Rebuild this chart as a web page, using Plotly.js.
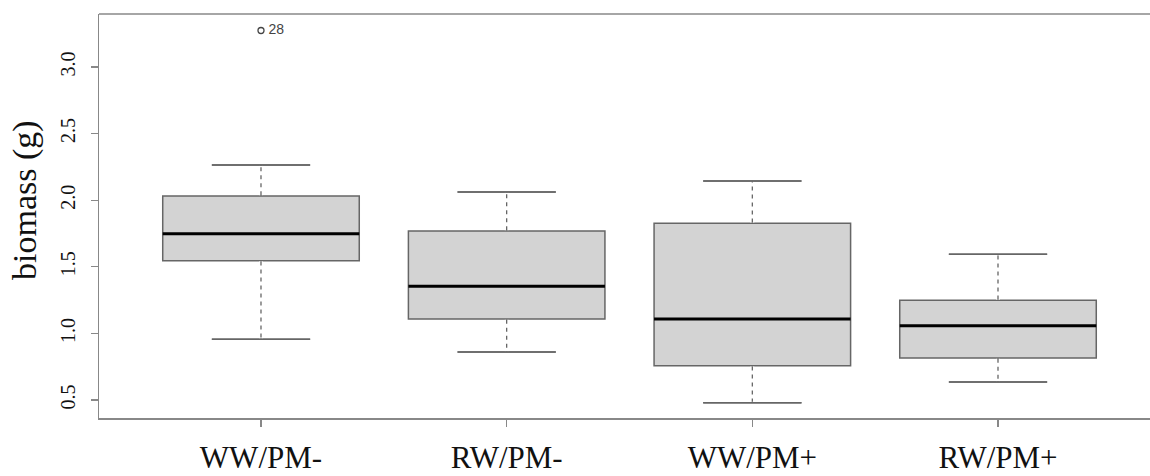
<!DOCTYPE html>
<html>
<head>
<meta charset="utf-8">
<script src="https://cdn.plot.ly/plotly-3.0.1.min.js"></script>
<style>html,body{margin:0;padding:0;background:#fff;overflow:hidden}</style>
</head>
<body>
<div id="chart" style="width:1200px;height:476px"></div>
<script>
// ---- data ----
const groups = ['WW/PM-', 'RW/PM-', 'WW/PM+', 'RW/PM+'];
const positions = [1, 2, 3, 4];
const lowerWhisker = [0.956, 0.860, 0.480, 0.635];
const q1 = [1.546, 1.108, 0.757, 0.815];
const median = [1.749, 1.354, 1.108, 1.058];
const q3 = [2.032, 1.769, 1.827, 1.248];
const upperWhisker = [2.264, 2.062, 2.144, 1.594];
const outlierPos = [1];
const outlierValue = [3.274];
const outlierLabel = ['28'];
const yTicks = [0.5, 1.0, 1.5, 2.0, 2.5, 3.0];

// ---- style ----
const BOX_W = 0.8, CAP_W = 0.4;
const edge = '#666666';
const serif = 'Liberation Serif, Times New Roman, serif';
const W = 1200;

const traces = [];
traces.push({
  type: 'box', x: positions, q1: q1, median: median, q3: q3,
  lowerfence: lowerWhisker, upperfence: upperWhisker,
  width: BOX_W, whiskerwidth: 0.5, boxpoints: false,
  fillcolor: '#d3d3d3', line: {color: edge, width: 1.5},
  hoverinfo: 'skip', showlegend: false
});

// whiskers: cover solid segments, redraw dashed, redraw caps
const wx = [], wy = [], cx = [], cy = [];
positions.forEach((p, i) => {
  wx.push(p, p, null, p, p, null);
  wy.push(q3[i] + 0.006, upperWhisker[i] - 0.006, null, q1[i] - 0.006, lowerWhisker[i] + 0.006, null);
  cx.push(p - CAP_W / 2, p + CAP_W / 2, null, p - CAP_W / 2, p + CAP_W / 2, null);
  cy.push(upperWhisker[i], upperWhisker[i], null, lowerWhisker[i], lowerWhisker[i], null);
});
traces.push({type: 'scatter', mode: 'lines', x: wx, y: wy, line: {color: '#ffffff', width: 4},
  hoverinfo: 'skip', showlegend: false, connectgaps: false});
traces.push({type: 'scatter', mode: 'lines', x: wx, y: wy, line: {color: edge, width: 1.3, dash: '4px,4px'},
  hoverinfo: 'skip', showlegend: false, connectgaps: false});
traces.push({type: 'scatter', mode: 'lines', x: cx, y: cy, line: {color: edge, width: 1.5},
  hoverinfo: 'skip', showlegend: false, connectgaps: false});

// medians
const mx = [], my = [];
positions.forEach((p, i) => {
  mx.push(p - BOX_W / 2, p + BOX_W / 2, null);
  my.push(median[i], median[i], null);
});
traces.push({type: 'scatter', mode: 'lines', x: mx, y: my, line: {color: '#000000', width: 3},
  hoverinfo: 'skip', showlegend: false, connectgaps: false});

// outlier
traces.push({
  type: 'scatter', mode: 'markers+text', x: outlierPos, y: outlierValue,
  text: outlierLabel.map(t => '\u2009' + t),
  textposition: 'middle right',
  textfont: {family: 'Liberation Sans, Arial, sans-serif', size: 14, color: '#444444'},
  marker: {symbol: 'circle-open', size: 6, color: '#444444', line: {width: 1.3}},
  hoverinfo: 'skip', showlegend: false
});

const layout = {
  width: W, height: 476,
  margin: {l: 99, r: 0, t: 14, b: 58, pad: 0},
  paper_bgcolor: '#ffffff', plot_bgcolor: '#ffffff',
  showlegend: false,
  xaxis: {
    range: [0.3406, 0.3406 + (W - 99) / 245.67], tickmode: 'array', tickvals: positions, ticktext: groups,
    showline: true, mirror: false, linecolor: '#888888', linewidth: 1.5,
    ticks: 'outside', ticklen: 7, tickcolor: '#888888', tickwidth: 1.2,
    showgrid: false, zeroline: false, ticklabelstandoff: 4,
    tickfont: {family: serif, size: 31, color: '#111111'}
  },
  yaxis: {
    range: [0.3649, 3.398], tickmode: 'array', tickvals: yTicks,
    ticktext: yTicks.map(v => v.toFixed(1)), tickangle: -90,
    showline: true, mirror: false, linecolor: '#888888', linewidth: 1.5,
    ticks: 'outside', ticklen: 7, tickcolor: '#888888', tickwidth: 1.2,
    showgrid: false, zeroline: false, ticklabelstandoff: 8,
    tickfont: {family: serif, size: 20, color: '#111111'}
  },
  shapes: [{
    type: 'line', xref: 'paper', yref: 'paper', x0: 0, x1: 1, y0: 1, y1: 1,
    line: {color: '#888888', width: 1.5}
  }],
  annotations: [{
    text: 'biomass (g)', xref: 'paper', yref: 'paper',
    x: (25 - 99) / (W - 99), y: (418 - 200) / 404, xanchor: 'center', yanchor: 'middle',
    textangle: -90, showarrow: false,
    font: {family: serif, size: 34, color: '#111111'}
  }]
};

Plotly.newPlot('chart', traces, layout, {displayModeBar: false, staticPlot: true});
</script>
</body>
</html>
